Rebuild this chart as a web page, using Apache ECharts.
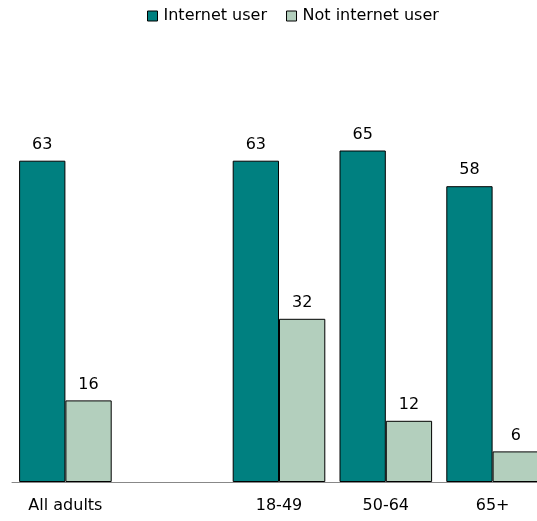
<!DOCTYPE html>
<html>
<head>
<meta charset="utf-8">
<script src="https://cdn.jsdelivr.net/npm/echarts@6/dist/echarts.min.js"></script>
<style>
  html, body { margin: 0; padding: 0; background: #fff; overflow: hidden; }
  /* the plot runs a little past the right edge of the page */
  #chart { width: 560px; height: 521px; }
</style>
</head>
<body>
<div id="chart"></div>
<script>
// Age groups; the blank slot separates the overall figure from the breakdown
const categories = ['All adults', '', '18-49', '50-64', '65+'];
const seriesNames = ['Internet user', 'Not internet user'];
const internetUser = [63, null, 63, 65, 58];
const notInternetUser = [16, null, 32, 12, 6];

const FONT = 'DejaVu Sans';
const colors = ['#008080', '#b3cfbd'];

const chart = echarts.init(document.getElementById('chart'), null, { renderer: 'canvas' });

function barSeries(name, data, color) {
  return {
    name: name,
    type: 'bar',
    data: data,
    barGap: '0%',
    barCategoryGap: '13.3%',
    itemStyle: { color: color, borderColor: '#000', borderWidth: 1 },
    label: {
      show: true,
      position: 'top',
      distance: 8,
      color: '#000',
      fontFamily: FONT,
      fontSize: 16
    },
    emphasis: { disabled: true },
    animation: false
  };
}

chart.setOption({
  animation: false,
  legend: {
    left: 147,
    top: 8,
    padding: 0,
    itemWidth: 10,
    itemHeight: 10,
    itemGap: 19,
    icon: 'rect',
    data: seriesNames.map((n, i) => ({
      name: n,
      itemStyle: { color: colors[i], borderColor: '#000', borderWidth: 1 }
    })),
    textStyle: { color: '#000', fontFamily: FONT, fontSize: 16, padding: [0, 0, 0, 1] }
  },
  grid: { left: 12, width: 534, top: 74, bottom: 39, containLabel: false },
  xAxis: {
    type: 'category',
    data: categories,
    axisLine: { show: true, lineStyle: { color: '#888', width: 1 } },
    axisTick: { show: false },
    axisLabel: { color: '#000', fontFamily: FONT, fontSize: 16, margin: 16, interval: 0 }
  },
  yAxis: {
    type: 'value',
    min: 0,
    max: 80,
    show: false,
    splitLine: { show: false }
  },
  series: [
    barSeries(seriesNames[0], internetUser, colors[0]),
    barSeries(seriesNames[1], notInternetUser, colors[1])
  ]
});
</script>
</body>
</html>
